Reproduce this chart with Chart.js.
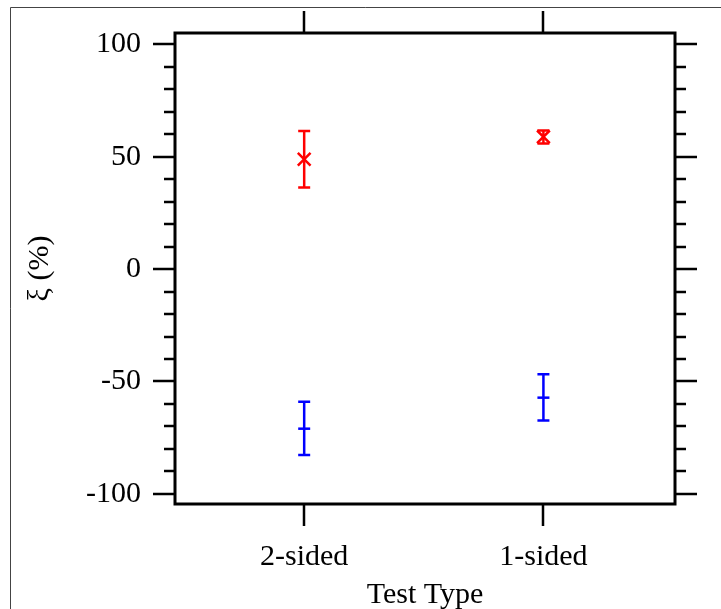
<!DOCTYPE html>
<html>
<head>
<meta charset="utf-8">
<script src="https://cdn.jsdelivr.net/npm/chart.js@4.4.0/dist/chart.umd.min.js"></script>
<style>
  html, body { margin: 0; padding: 0; background: #fff; }
  canvas { display: block; }
</style>
</head>
<body>
<canvas id="xiChart" width="721" height="609"></canvas>
<script>
// data
const categories = ['2-sided', '1-sided'];
const redMean = [48.8, 58.8];
const redLow = [36.3, 55.8];
const redHigh = [61.4, 61.6];
const blueMean = [-71, -57.2];
const blueLow = [-82.7, -67.4];
const blueHigh = [-59, -46.8];
const yMajorTicks = [-100, -50, 0, 50, 100];

const serif = "'Liberation Serif', 'Times New Roman', serif";

function points(means, lows, highs) {
    return means.map((m, i) => ({ x: i + 1, y: m, low: lows[i], high: highs[i] }));
}

// error bars, frame and outward tick marks
const decorations = {
    id: 'decorations',
    beforeDraw(chart) {
        const ctx = chart.ctx;
        ctx.save();
        ctx.fillStyle = '#fff';
        ctx.fillRect(0, 0, chart.width, chart.height);
        ctx.strokeStyle = '#444';
        ctx.lineWidth = 1;
        ctx.beginPath();
        ctx.moveTo(10.5, chart.height);
        ctx.lineTo(10.5, 7.5);
        ctx.lineTo(chart.width, 7.5);
        ctx.stroke();
        ctx.restore();
    },
    afterDraw(chart) {
        const ctx = chart.ctx;
        const area = chart.chartArea;
        const xs = chart.scales.x, ys = chart.scales.y;
        ctx.save();
        ctx.strokeStyle = '#000';
        ctx.lineWidth = 2.5;
        ctx.beginPath();
        ys.ticks.forEach(t => {
            const py = Math.round(ys.getPixelForValue(t.value));
            const len = yMajorTicks.includes(t.value) ? 22 : 11;
            ctx.moveTo(area.left, py); ctx.lineTo(area.left - len, py);
            ctx.moveTo(area.right, py); ctx.lineTo(area.right + len, py);
        });
        xs.ticks.forEach(t => {
            const px = Math.round(xs.getPixelForValue(t.value));
            ctx.moveTo(px, area.top); ctx.lineTo(px, area.top - 22);
            ctx.moveTo(px, area.bottom); ctx.lineTo(px, area.bottom + 22);
        });
        ctx.stroke();
        ctx.lineWidth = 3;
        ctx.strokeRect(area.left, area.top, area.right - area.left, area.bottom - area.top);

        chart.data.datasets.forEach(ds => {
            ctx.strokeStyle = ds.borderColor;
            ctx.lineWidth = 2.5;
            ctx.beginPath();
            ds.data.forEach(p => {
                const px = xs.getPixelForValue(p.x);
                const top = ys.getPixelForValue(p.high);
                const bot = ys.getPixelForValue(p.low);
                ctx.moveTo(px, top); ctx.lineTo(px, bot);
                ctx.moveTo(px - 6, top); ctx.lineTo(px + 6, top);
                ctx.moveTo(px - 6, bot); ctx.lineTo(px + 6, bot);
            });
            ctx.stroke();
        });
        ctx.restore();
    }
};

new Chart(document.getElementById('xiChart'), {
    type: 'scatter',
    data: {
        datasets: [{
            label: 'red',
            data: points(redMean, redLow, redHigh),
            borderColor: '#ff0000',
            backgroundColor: '#ff0000',
            pointStyle: 'crossRot',
            pointRadius: 9,
            borderWidth: 2.5
        }, {
            label: 'blue',
            data: points(blueMean, blueLow, blueHigh),
            borderColor: '#0000ff',
            backgroundColor: '#0000ff',
            pointStyle: 'line',
            pointRadius: 6,
            borderWidth: 2.5
        }]
    },
    options: {
        responsive: false,
        animation: false,
        layout: { padding: { left: 0, right: 46, top: 33, bottom: 0 } },
        plugins: { legend: { display: false }, tooltip: { enabled: false } },
        scales: {
            x: {
                type: 'linear',
                min: 0.46,
                max: 2.55,
                grid: { display: false, drawTicks: false },
                border: { display: false },
                afterBuildTicks(scale) {
                    scale.ticks = categories.map((c, i) => ({ value: i + 1 }));
                },
                ticks: {
                    padding: 35,
                    color: '#000',
                    font: { family: serif, size: 30 },
                    maxRotation: 0,
                    autoSkip: false,
                    callback: v => categories[v - 1]
                },
                title: {
                    display: true,
                    text: 'Test Type',
                    color: '#000',
                    font: { family: serif, size: 30 },
                    padding: { top: 0, bottom: -4 }
                },
                afterFit(scale) {
                    scale.height = 105;
                    scale.paddingLeft = scale.paddingRight = 0;
                }
            },
            y: {
                min: -104.5,
                max: 105,
                grid: { display: false, drawTicks: false },
                border: { display: false },
                ticks: {
                    stepSize: 10,
                    includeBounds: false,
                    autoSkip: false,
                    padding: 34,
                    color: '#000',
                    font: { family: serif, size: 30 },
                    callback: v => yMajorTicks.includes(v) ? String(v) : ''
                },
                title: {
                    display: true,
                    text: 'ξ (%)',
                    color: '#000',
                    font: { family: serif, size: 30 },
                    padding: { top: 22, bottom: 0 }
                },
                afterFit(scale) {
                    scale.width = 175;
                    scale.paddingTop = scale.paddingBottom = 0;
                }
            }
        }
    },
    plugins: [decorations]
});
</script>
</body>
</html>
